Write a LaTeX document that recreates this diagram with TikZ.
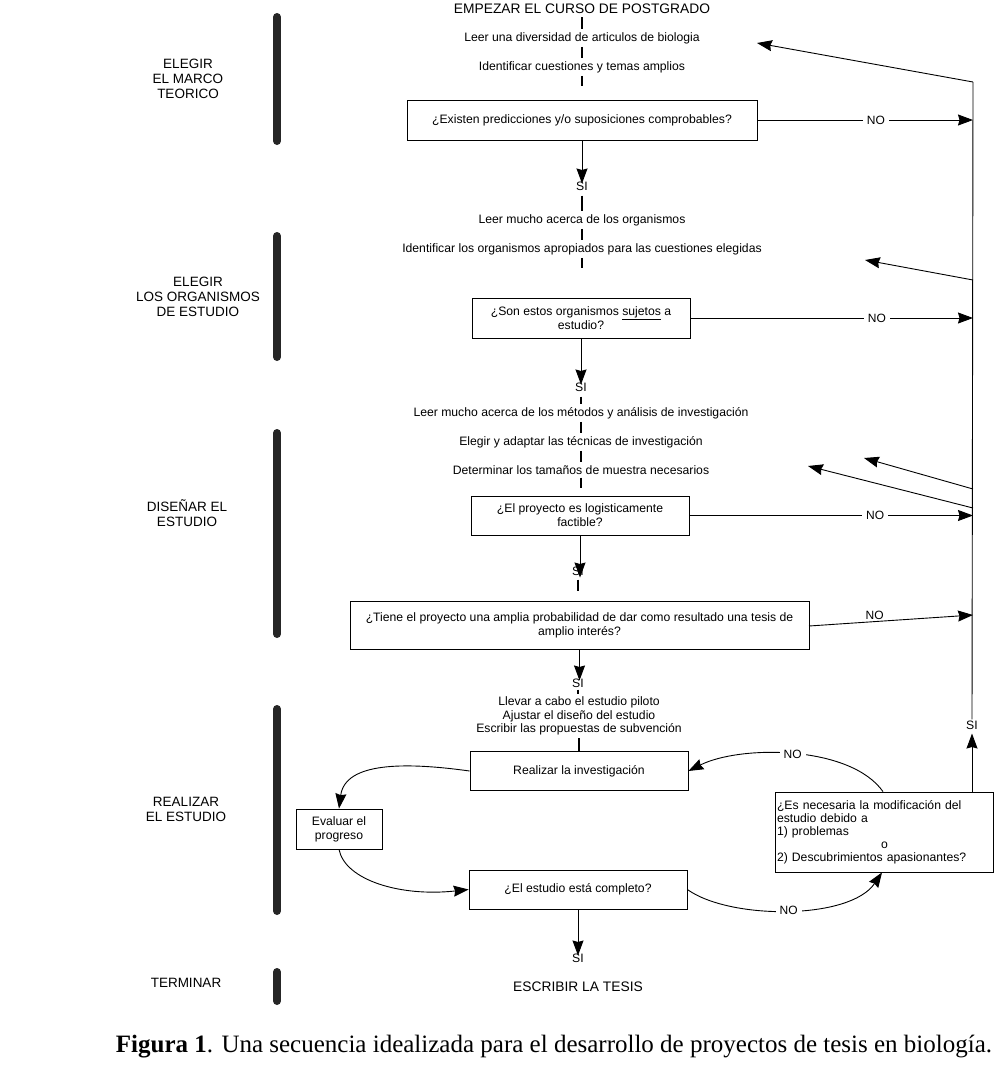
\documentclass[tikz,border=0pt]{standalone}
\usepackage{fontspec}
\setmainfont{Liberation Sans}
\newfontfamily\capfont{Liberation Serif}
\usetikzlibrary{arrows.meta,calc}
\begin{document}
\begin{tikzpicture}[x=1pt,y=-1pt,
  txt/.style={font=\fontsize{12.2}{13.5}\selectfont, inner sep=1pt, align=center},
  big/.style={font=\fontsize{13.8}{15}\selectfont, inner sep=1pt},
  lab/.style={font=\fontsize{13.5}{15}\selectfont, inner sep=1pt, align=center},
  qbox/.style={draw, line width=0.8pt, font=\fontsize{12.2}{13.8}\selectfont, align=center, inner sep=2pt},
  tick/.style={line width=1.1pt},
  bar/.style={line width=8pt, line cap=round, color=black!85},
  arr/.style={line width=0.9pt, -{Stealth[length=15pt,width=11pt,inset=1.5pt]}},
  ln/.style={line width=0.9pt},
  nolab/.style={fill=white, font=\fontsize{12}{13}\selectfont, inner sep=4pt}
]
\useasboundingbox (0,0) rectangle (1001,1074);

% left bars
\draw[bar] (277,17) -- (277,141);
\draw[bar] (277,236) -- (277,357);
\draw[bar] (277,433) -- (277,634);
\draw[bar] (277,709) -- (277,911);
\draw[bar] (277,972) -- (277,1001);

% left labels
\node[lab] (s1) at (188,79) {ELEGIR\\EL MARCO\\TEORICO};
\node[lab] (s2) at (198,297) {ELEGIR\\LOS ORGANISMOS\\DE ESTUDIO};
\node[lab] (s3) at (187,513) {DISEÑAR EL\\ESTUDIO};
\node[lab] (s4) at (186,809) {REALIZAR\\EL ESTUDIO};
\node[lab] (s5) at (186,983) {TERMINAR};

% central column
\node[big] (t0) at (582,9) {EMPEZAR EL CURSO DE POSTGRADO};
\node[txt] (l1) at (582,38) {Leer una diversidad de articulos de biologia};
\node[txt] (l2) at (582,67) {Identificar cuestiones y temas amplios};
\node[qbox, minimum width=350pt, minimum height=40pt] (b1) at (582,120) {¿Existen predicciones y/o suposiciones comprobables?};
\node[txt] (si1) at (582,186) {SI};
\node[txt] (l3) at (582,220) {Leer mucho acerca de los organismos};
\node[txt] (l4) at (582,249) {Identificar los organismos apropiados para las cuestiones elegidas};
\node[qbox, minimum width=218pt, minimum height=40pt] (b2) at (581,318) {¿Son estos organismos \underline{sujetos} a\\estudio?};
\node[txt] (si2) at (581,387) {SI};
\node[txt] (l5) at (581,413) {Leer mucho acerca de los métodos y análisis de investigación};
\node[txt] (l6) at (581,442) {Elegir y adaptar las técnicas de investigación};
\node[txt] (l7) at (581,470) {Determinar los tamaños de muestra necesarios};
\node[qbox, minimum width=218pt, minimum height=39pt] (b3) at (580,515.5) {¿El proyecto es logisticamente\\factible?};
\node[txt] (si3) at (578,571) {SI};
\node[qbox, minimum width=459pt, minimum height=48pt] (b4) at (579.5,625) {¿Tiene el proyecto una amplia probabilidad de dar como resultado una tesis de\\amplio interés?};
\node[txt] (si4) at (578,683) {SI};
\node[txt] (l8) at (579,716) {Llevar a cabo el estudio piloto\\Ajustar el diseño del estudio\\Escribir las propuestas de subvención};
\node[qbox, minimum width=218pt, minimum height=39pt] (b5) at (579,771) {Realizar la investigación};
\node[qbox, minimum width=86pt, minimum height=40pt] (b6) at (339,829) {Evaluar el\\progreso};
\node[qbox, minimum width=218pt, minimum height=39pt] (b7) at (578,889.5) {¿El estudio está completo?};
\node[txt] (si5) at (578,958) {SI};
\node[big] (end) at (578,987) {ESCRIBIR LA TESIS};
\node[qbox, minimum width=218pt, minimum height=80pt, align=left, text width=214pt, inner sep=2pt, font=\fontsize{12.2}{13}\selectfont] (b8) at (884,832)
  {¿Es necesaria la modificación del\\estudio debido a\\1) problemas\\\hspace*{104pt}o\\2) Descubrimientos apasionantes?};

% ticks
\draw[tick] ([yshift=-2pt]t0.south) -- ([yshift=2pt]l1.north);
\draw[tick] ([yshift=-2pt]l1.south) -- ([yshift=2pt]l2.north);
\draw[tick] ([yshift=-2pt]l2.south) -- ([yshift=-12pt]l2.south);
\draw[tick] ([yshift=-4pt]si1.south) -- ([yshift=2pt]l3.north);
\draw[tick] ([yshift=-2pt]l3.south) -- ([yshift=2pt]l4.north);
\draw[tick] ([yshift=-2pt]l4.south) -- ([yshift=-12pt]l4.south);
\draw[tick] ([yshift=-4pt]si2.south) -- ([yshift=2pt]l5.north);
\draw[tick] ([yshift=-2pt]l5.south) -- ([yshift=2pt]l6.north);
\draw[tick] ([yshift=-2pt]l6.south) -- ([yshift=2pt]l7.north);
\draw[tick] ([yshift=-2pt]l7.south) -- ([yshift=-12pt]l7.south);
\draw[tick] ([yshift=-3pt]si3.south) -- ([yshift=-14pt]si3.south);
\draw[tick] ([yshift=-1pt]si4.south) -- ([yshift=-5pt]si4.south);
\draw[tick] ([yshift=-2pt]l8.south) -- (b5.north);

% downward arrows
\draw[arr] (b1.south) -- ([yshift=-3pt]b1.south |- si1.north);
\draw[arr] (b2.south) -- ([yshift=-3pt]b2.south |- si2.north);
\draw[arr] (b3.south) -- ([yshift=-1pt]b3.south |- si3.south);
\draw[arr] (b4.south) -- ([yshift=-3pt]b4.south |- si4.north);
\draw[arr] (b7.south) -- ([yshift=-3pt]b7.south |- si5.north);

% spine
\coordinate (sptop) at (973,82);
\node[txt] (si6) at (972,725) {SI};
\draw[ln] (si6.north) -- (sptop);
\draw[arr] (b8.north -| si6) -- ([yshift=-3pt]si6.south);

% NO arrows to spine
\draw[arr] (b1.east) -- node[nolab, pos=0.55] {NO} (b1.east -| sptop);
\draw[arr] (b2.east) -- node[nolab, pos=0.66] {NO} (b2.east -| sptop);
\draw[arr] (b3.east) -- node[nolab, pos=0.655] {NO} (b3.east -| sptop);
\coordinate (b4o) at (809,626);
\coordinate (b4i) at (973,615);
\draw[arr] (b4o) -- node[pos=0.4, above=0pt, font=\fontsize{12}{13}\selectfont, inner sep=2pt] {NO} (b4i);

% return arrows
\coordinate (r1e) at (757,43);
\coordinate (r2s) at (973,280);  \coordinate (r2e) at (865,260);
\coordinate (r3s) at (973,489);  \coordinate (r3e) at (864,458);
\coordinate (r4s) at (973,508);  \coordinate (r4e) at (808,466);
\draw[arr] (sptop) -- (r1e);
\draw[arr] (r2s) -- (r2e);
\draw[arr] (r3s) -- (r3e);
\draw[arr] (r4s) -- (r4e);

% curved loop
\draw[arr] (b5.west) .. controls (405,762) and (345,762) .. (b6.north);
\draw[arr] (b6.south) .. controls (345,880) and (400,897) .. (b7.west);
\draw[arr] (b7.east) .. controls (730,920) and (850,920) .. node[nolab, pos=0.5] {NO} ([xshift=-2pt]b8.south);
\draw[arr] ([xshift=-1pt]b8.north) .. controls (850,745) and (740,745) .. node[nolab, pos=0.5] {NO} (b5.east);

% caption
\node[font=\capfont\fontsize{25}{28}\selectfont, inner sep=0pt] (cap) at (554,1047)
  {\textbf{Figura 1}. Una secuencia idealizada para el desarrollo de proyectos de tesis en biología.};
\end{tikzpicture}
\end{document}
